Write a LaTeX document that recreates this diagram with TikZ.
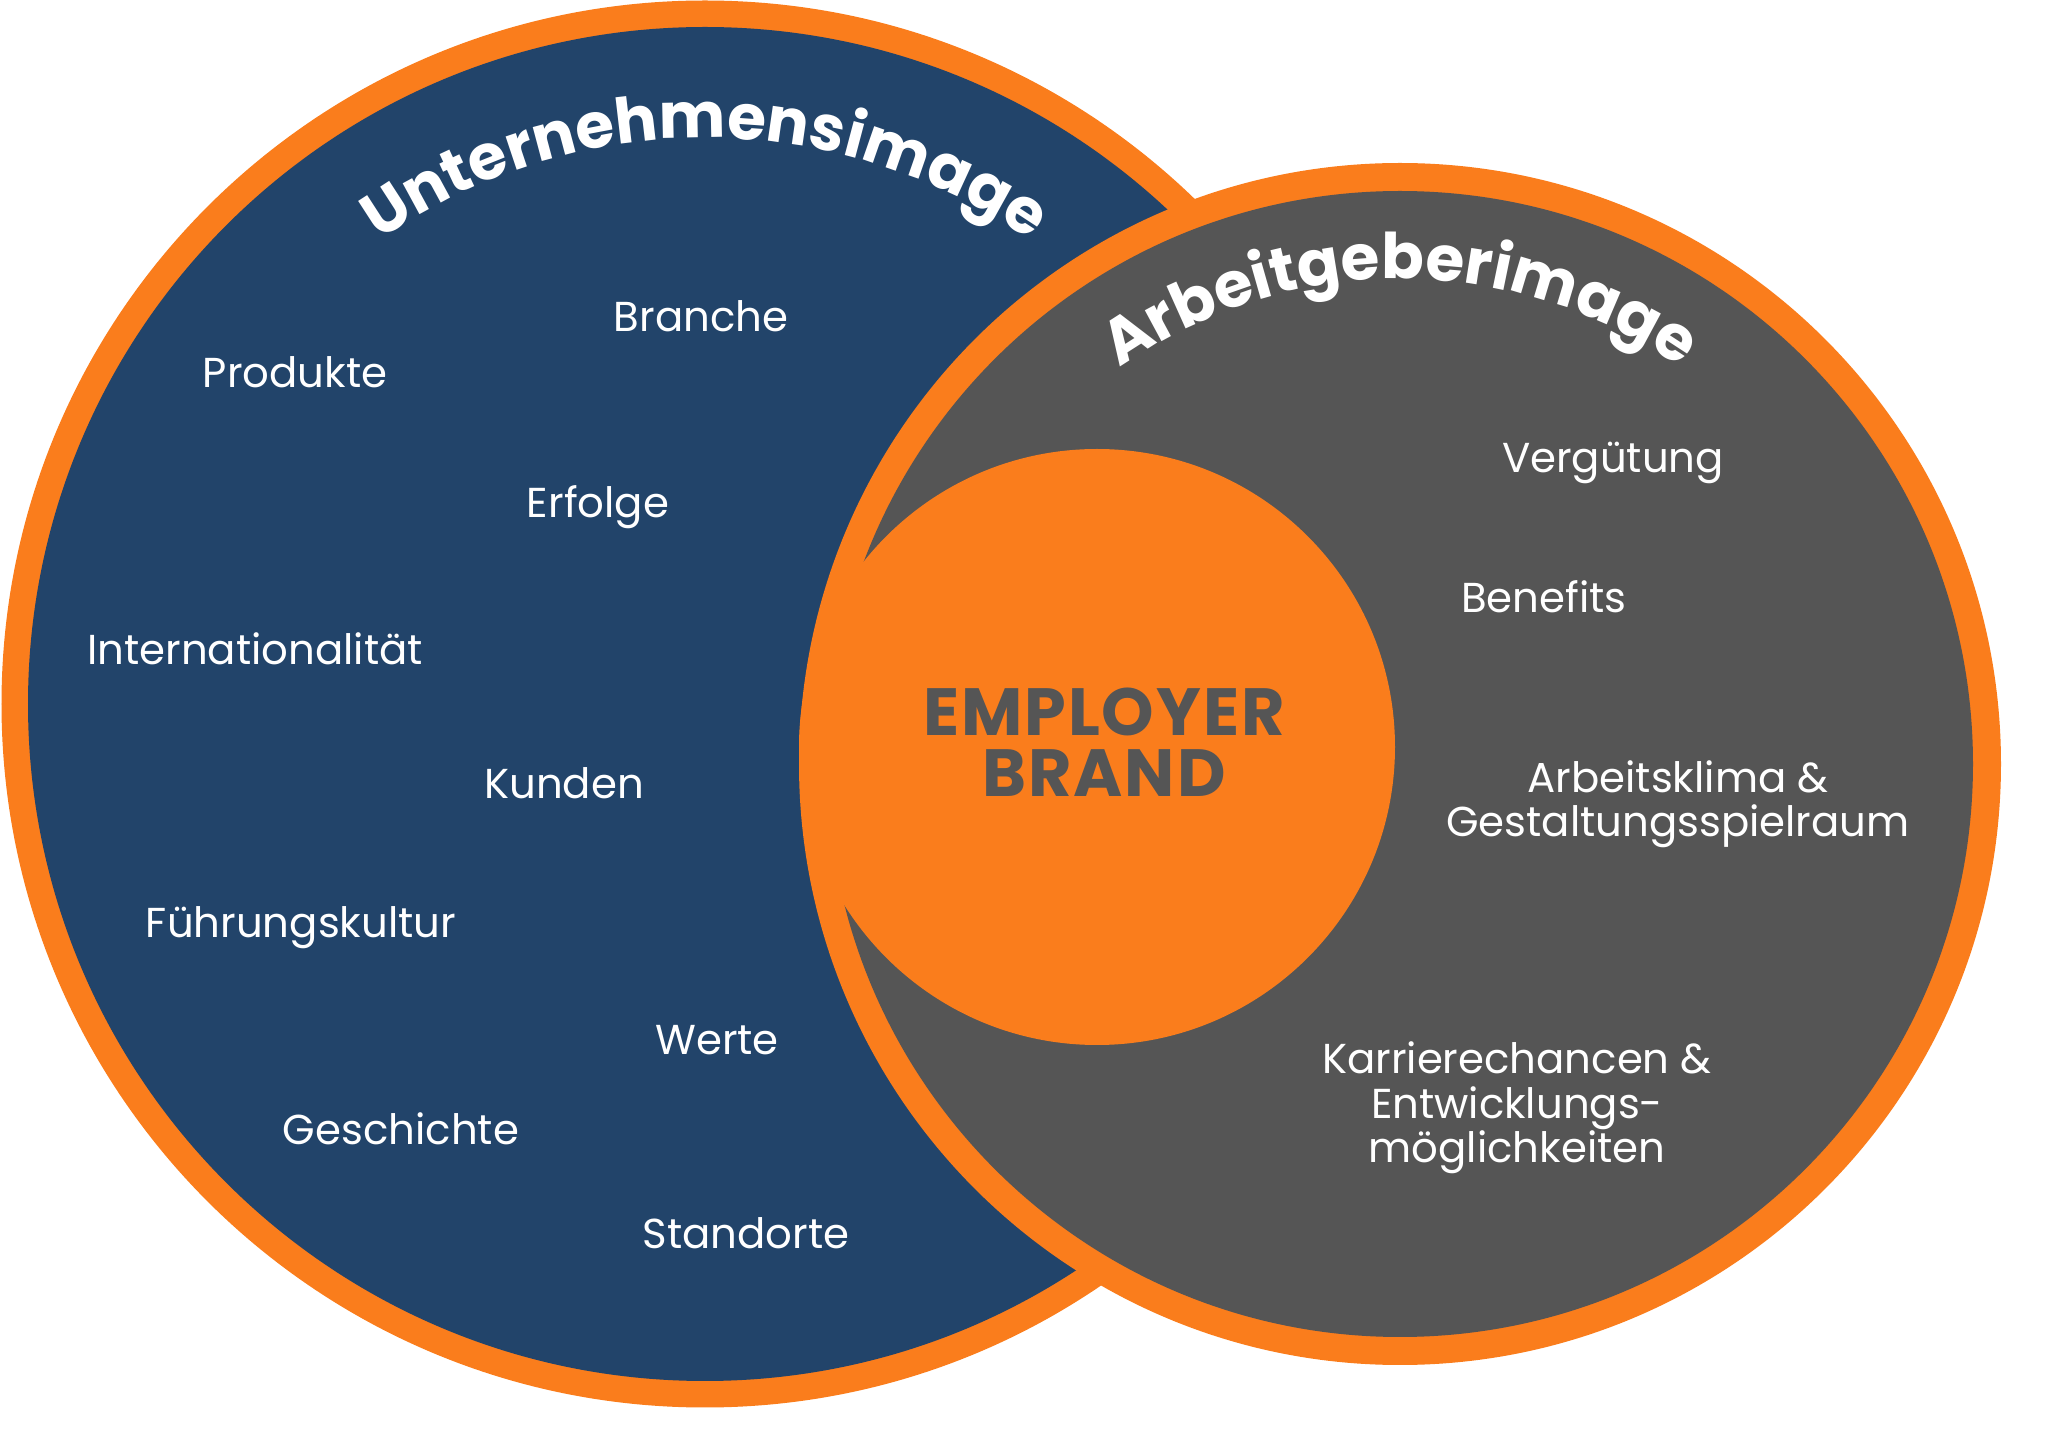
\documentclass[tikz,border=0pt]{standalone}
\usepackage{fontspec}
\setmainfont{Poppins}
\usetikzlibrary{decorations.text}
\definecolor{ebOrange}{RGB}{250,125,28}
\definecolor{ebBlue}{RGB}{34,68,106}
\definecolor{ebGray}{RGB}{85,85,85}
\newcommand\titlefont{\fontsize{17.9}{20}\selectfont\bfseries}
\tikzset{
  item/.style={text=white, font=\fontsize{11.9}{12.6}\selectfont, align=center, inner sep=0pt},
  brand/.style={text=ebGray, font=\fontsize{19}{17.4}\selectfont\bfseries\addfontfeatures{LetterSpace=3}, align=center, inner sep=0pt},
  arctitle/.style={decorate, decoration={text along path, text align=center, text color=white, text={|\titlefont|#1}}}
}
\begin{document}
\begin{tikzpicture}
	\useasboundingbox (0,0) rectangle (20.48,-14.35);
	\def\rL{7.035} \def\rR{6.01} % Radien
	\coordinate (lc) at (7.05,-7.04);
	\coordinate (rc) at (14.00,-7.64);
	\coordinate (bc) at (10.97,-7.47);
	% Unternehmensimage
	\fill[ebOrange] (lc) circle (\rL);
	\fill[ebBlue] (lc) circle (\rL-0.265);
	% Arbeitgeberimage
	\fill[ebOrange] (rc) circle (\rR);
	\fill[ebGray] (rc) circle (\rR-0.28);
	\fill[ebOrange] (bc) circle (2.98);
	\path[arctitle=Unternehmensimage] ([shift={(180:5.66)}]lc) arc[start angle=180, end angle=0, radius=5.66];
	\path[arctitle=Arbeitgeberimage] ([shift={(180:4.85)}]rc) arc[start angle=180, end angle=0, radius=4.85];
	\node[brand] (brand) at (11.04,-7.42) {EMPLOYER\\BRAND};
	% links
	\node[item, anchor=base] (branche) at (7.01,-3.32) {Branche};
	\node[item, anchor=base] (produkte) at (2.95,-3.88) {Produkte};
	\node[item, anchor=base] (erfolge) at (5.98,-5.18) {Erfolge};
	\node[item, anchor=base] (intl) at (2.55,-6.65) {Internationalität};
	\node[item, anchor=base] (kunden) at (5.64,-7.99) {Kunden};
	\node[item, anchor=base] (fuehrung) at (3.01,-9.38) {Führungskultur};
	\node[item, anchor=base] (werte) at (7.17,-10.55) {Werte};
	\node[item, anchor=base] (geschichte) at (4.01,-11.45) {Geschichte};
	\node[item, anchor=base] (standorte) at (7.46,-12.49) {Standorte};
	% rechts
	\node[item, anchor=base] (verguetung) at (16.13,-4.73) {Vergütung};
	\node[item, anchor=base] (benefits) at (15.44,-6.13) {Benefits};
	\node[item] (klima) at (16.78,-8.04) {Arbeitsklima \&\\Gestaltungsspielraum};
	\node[item] (karriere) at (15.17,-11.08) {Karrierechancen \&\\Entwicklungs-\\möglichkeiten};
\end{tikzpicture}
\end{document}
